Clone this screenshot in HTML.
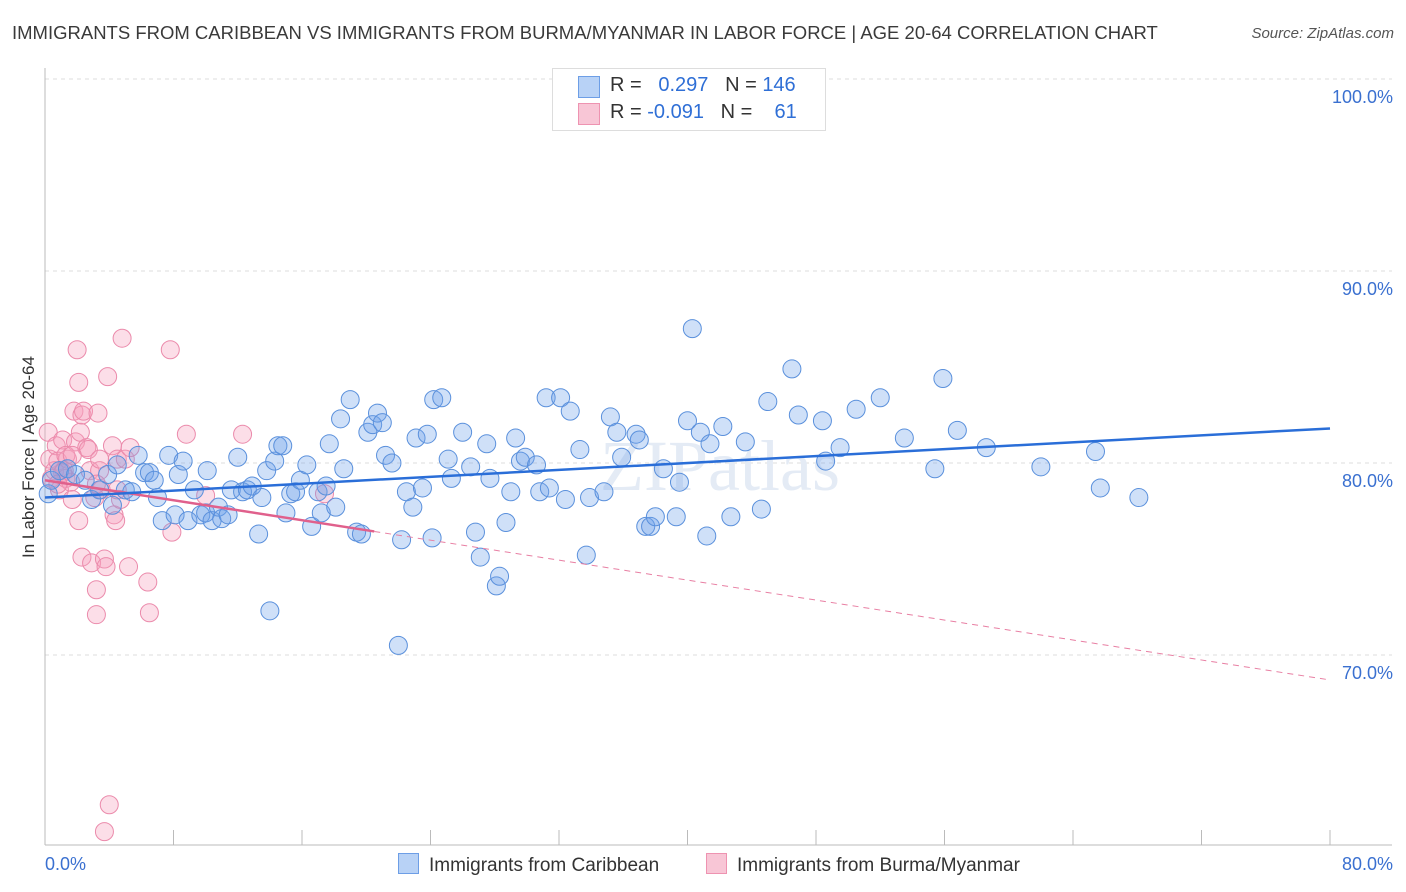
<!DOCTYPE html>
<html><head><meta charset="utf-8">
<style>
body{margin:0;background:#fff;font-family:"Liberation Sans",sans-serif;}
#wrap{position:relative;width:1406px;height:892px;overflow:hidden;}
.t{position:absolute;white-space:nowrap;}
</style></head>
<body>
<div id="wrap">
<div class="t" style="left:12px;top:22px;font-size:18.5px;color:#3a3a3a;">IMMIGRANTS FROM CARIBBEAN VS IMMIGRANTS FROM BURMA/MYANMAR IN LABOR FORCE | AGE 20-64 CORRELATION CHART</div>
<div class="t" style="right:12px;top:25px;font-size:15px;color:#555;font-style:italic;">Source: ZipAtlas.com</div>
<svg id="svg" width="1406" height="892" style="position:absolute;left:0;top:0"></svg>
</div>
<script>
const blueX=[0.2,0.4,0.9,1.4,1.9,2.5,2.9,3.4,3.9,4.2,4.5,5.0,5.4,5.8,6.2,6.5,6.8,7.0,7.3,7.7,8.1,8.3,8.6,8.9,9.3,9.7,10.0,10.1,10.4,10.8,11.0,11.4,11.6,12.0,12.3,12.6,12.9,13.3,13.5,13.8,14.0,14.3,14.5,14.8,15.0,15.3,15.6,15.9,16.3,16.6,17.0,17.2,17.5,17.7,18.1,18.4,18.6,19.0,19.4,19.7,20.1,20.4,20.7,21.0,21.2,21.6,22.0,22.2,22.5,22.9,23.1,23.5,23.8,24.1,24.2,24.7,25.1,25.3,26.0,26.5,26.8,27.1,27.5,27.7,28.1,28.3,28.7,29.0,29.3,29.6,29.9,30.6,30.8,31.2,31.4,32.1,32.4,32.7,33.3,33.7,33.9,34.8,35.2,35.6,35.9,36.8,37.0,37.4,37.7,38.0,38.5,39.3,39.5,40.0,40.3,40.8,41.2,41.4,42.2,42.7,43.6,44.6,45.0,46.5,46.9,48.4,48.6,49.5,50.5,52.0,53.5,55.4,55.9,56.8,58.6,62.0,65.4,65.7,68.1];
const blueY=[78.4,79.1,79.6,79.7,79.4,79.1,78.1,78.6,79.4,77.8,79.9,78.6,78.5,80.4,79.5,79.5,79.1,78.2,77.0,80.4,77.3,79.4,80.1,77.0,78.6,77.3,77.4,79.6,77.0,77.7,77.1,77.3,78.6,80.3,78.5,78.6,78.8,76.3,78.2,79.6,72.3,80.1,80.9,80.9,77.4,78.4,78.5,79.1,79.9,76.7,78.5,77.4,78.8,81.0,77.7,82.3,79.7,83.3,76.4,76.3,81.6,82.0,82.6,82.1,80.4,80.0,70.5,76.0,78.5,77.7,81.3,78.7,81.5,76.1,83.3,83.4,80.2,79.2,81.6,79.8,76.4,75.1,81.0,79.2,73.6,74.1,76.9,78.5,81.3,80.1,80.3,79.9,78.5,83.4,78.7,83.4,78.1,82.7,80.7,75.2,78.2,78.5,82.4,81.6,80.3,81.5,81.2,76.7,76.7,77.2,79.7,77.2,79.0,82.2,87.0,81.6,76.2,81.0,81.9,77.2,81.1,77.6,83.2,84.9,82.5,82.2,80.1,80.8,82.8,83.4,81.3,79.7,84.4,81.7,80.8,79.8,80.6,78.7,78.2];
const pinkX=[0.2,0.3,0.4,0.6,0.7,0.8,0.9,1.1,1.2,1.3,1.4,1.6,1.7,1.8,1.9,2.1,2.1,2.2,2.3,2.3,2.4,2.0,2.6,2.7,2.8,2.9,3.1,3.2,3.2,3.3,3.4,3.5,3.7,3.8,3.9,4.0,4.2,4.3,4.4,4.5,4.7,4.8,5.0,5.2,5.3,6.4,6.5,7.8,7.9,8.8,10.0,12.3,3.7,1.1,0.8,1.3,3.4,4.5,17.4,3.2,1.7];
const pinkY=[81.6,80.2,79.2,79.6,80.9,80.1,78.6,81.2,79.6,79.2,80.2,79.0,78.1,82.7,81.1,77.0,84.2,81.6,75.1,82.5,82.7,85.9,80.8,80.7,79.6,74.8,78.2,73.4,72.1,82.6,79.6,78.6,75.0,74.6,84.5,62.2,80.9,77.3,77.0,80.2,78.1,86.5,80.2,74.6,80.8,73.8,72.2,85.9,76.4,81.5,78.3,81.5,60.8,79.5,78.9,80.4,80.2,78.6,78.4,78.9,80.4];
const blueTrend=[78.2,81.8];
const pinkTrend=[79.1,68.7];
const pinkSolidEnd=20.5;
const yTicks=[100,90,80,70];
const xTickCount=10;

const NS="http://www.w3.org/2000/svg";
const svg=document.getElementById('svg');
const X0=45,X1=1330,Y100=79,PX10=192;
const sx=v=>X0+(v/80)*(X1-X0);
const sy=v=>Y100+(100-v)/10*PX10;
function mk(tag,attrs){const e=document.createElementNS(NS,tag);for(const k in attrs)e.setAttribute(k,attrs[k]);svg.appendChild(e);return e;}
function txt(s,attrs){const e=mk('text',attrs);e.textContent=s;return e;}

yTicks.forEach(v=>{
  const g=mk('line',{x1:X0,x2:1392,y1:sy(v),y2:sy(v),stroke:'#ddd','stroke-dasharray':'4,4'});
  
  
  const t=txt(v.toFixed(1)+'%',{x:1393,y:sy(v)+24,'text-anchor':'end','font-size':18,fill:'#3a70d0','font-family':'Liberation Sans, sans-serif'});
  
  
});
const ya=mk('line',{x1:X0,x2:X0,y1:68,y2:845,stroke:'#bbb'});


const xa=mk('line',{x1:X0,x2:1392,y1:845,y2:845,stroke:'#bbb'});


for(let i=0;i<=xTickCount;i++){
  const x=sx(i*80/xTickCount);
  const tk=mk('line',{x1:x,x2:x,y1:830,y2:845,stroke:'#bbb'});
  
  
}
const xl0=txt('0.0%',{x:45,y:870,'font-size':18,fill:'#3a70d0'});


const xl1=txt('80.0%',{x:1393,y:870,'text-anchor':'end','font-size':18,fill:'#3a70d0'});


const yt=txt('In Labor Force | Age 20-64',{x:0,y:0,'font-size':17,fill:'#333','text-anchor':'middle',transform:'translate(34,457) rotate(-90)'});


const wm=txt('ZIPatlas',{x:720,y:490,'font-size':72,fill:'#e4ebf5','text-anchor':'middle','font-family':'Liberation Serif, serif'});



pinkX.forEach((v,i)=>{
  const c=mk('circle',{cx:sx(v),cy:sy(pinkY[i]),r:9,fill:'rgba(245,160,190,0.35)',stroke:'#eb8aab','stroke-width':1});
  
  
});
blueX.forEach((v,i)=>{
  const c=mk('circle',{cx:sx(v),cy:sy(blueY[i]),r:9,fill:'rgba(110,160,235,0.33)',stroke:'#5a90dc','stroke-width':1});
  
  
});
const pv=x=>pinkTrend[0]+(pinkTrend[1]-pinkTrend[0])*x/80;
const pl=mk('line',{x1:sx(0),y1:sy(pv(0)),x2:sx(pinkSolidEnd),y2:sy(pv(pinkSolidEnd)),stroke:'#e0608c','stroke-width':2.5});


const pd=mk('line',{x1:sx(pinkSolidEnd),y1:sy(pv(pinkSolidEnd)),x2:sx(80),y2:sy(pv(80)),stroke:'#e87fa3','stroke-width':1,'stroke-dasharray':'6,5'});


const bl=mk('line',{x1:sx(0),y1:sy(blueTrend[0]),x2:sx(80),y2:sy(blueTrend[1]),stroke:'#2a6ed8','stroke-width':2.5});


</script>
<div class="t" style="left:552px;top:68px;width:272px;height:61px;border:1px solid #ddd;background:#fff;"></div>
<div class="t" style="left:578px;top:76px;width:20px;height:20px;background:#b8d2f6;border:1px solid #6d9ee6;"></div>
<div class="t" style="left:578px;top:103px;width:20px;height:20px;background:#f8c6d6;border:1px solid #ee93b1;"></div>
<div class="t" style="left:610px;top:74px;font-size:20px;color:#333;">R = &nbsp;<span style="color:#2f6fd6">&nbsp;0.297</span>&nbsp;&nbsp;&nbsp;N = <span style="color:#2f6fd6">146</span></div>
<div class="t" style="left:610px;top:101px;font-size:20px;color:#333;">R = <span style="color:#2f6fd6">-0.091</span>&nbsp;&nbsp;&nbsp;N = &nbsp;&nbsp;&nbsp;<span style="color:#2f6fd6">61</span></div>
<div class="t" style="left:398px;top:853px;font-size:19px;color:#333;"><span style="display:inline-block;width:19px;height:19px;background:#b8d2f6;border:1px solid #6d9ee6;vertical-align:-3px;margin-right:10px;"></span>Immigrants from Caribbean</div>
<div class="t" style="left:706px;top:853px;font-size:19px;color:#333;"><span style="display:inline-block;width:19px;height:19px;background:#f8c6d6;border:1px solid #ee93b1;vertical-align:-3px;margin-right:10px;"></span>Immigrants from Burma/Myanmar</div>
</body></html>
